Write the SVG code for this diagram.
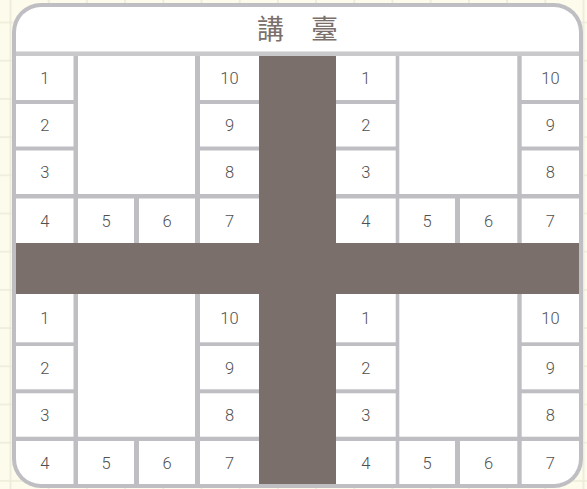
<svg xmlns="http://www.w3.org/2000/svg" width="587" height="489" viewBox="0 0 587 489">
<defs>
<pattern id="bg" x="9.5" y="21.5" width="38.2" height="38.2" patternUnits="userSpaceOnUse">
<rect width="38.2" height="38.2" fill="#fdfbec"/>
<path d="M1 0V38.2M0 1H38.2" stroke="#ecebd9" stroke-width="1.6" fill="none"/>
</pattern>
<clipPath id="inner"><rect x="16" y="7" width="563" height="477" rx="25"/></clipPath>
<style>
.cell{fill:#ffffff}
.big{fill:#ffffff}
.aisle{fill:#7b6f6b}
.num{font-family:Roboto,"Liberation Sans",sans-serif;font-weight:300;font-size:16.5px;fill:#505050;text-anchor:middle}
.title{font-family:"Noto Sans CJK TC","Noto Sans CJK SC",sans-serif;font-size:27px;fill:#7b6f6b;text-anchor:middle}
</style>
</defs>
<rect width="587" height="489" fill="url(#bg)"/>
<rect id="frame" x="12" y="3" width="571" height="485" rx="29" fill="#bfbfc3"/>
<g clip-path="url(#inner)">
<g id="title-bar"><rect class="cell" x="16" y="7" width="563" height="44.7"/><text class="title" x="297.5" y="39">講　臺</text></g>
<rect x="16" y="51.7" width="563" height="4.3" fill="#c9c9cc"/>

<g id="lt-1"><rect class="cell" x="16" y="56" width="57.5" height="44"/><text class="num" x="44.75" y="84">1</text></g>
<g id="lt-2"><rect class="cell" x="16" y="104" width="57.5" height="42.5"/><text class="num" x="44.75" y="131.3">2</text></g>
<g id="lt-3"><rect class="cell" x="16" y="150.5" width="57.5" height="43.5"/><text class="num" x="44.75" y="178.3">3</text></g>
<g id="lt-4"><rect class="cell" x="16" y="198.5" width="57.5" height="44.5"/><text class="num" x="44.75" y="226.8">4</text></g>
<g id="lt-5"><rect class="cell" x="78" y="198.5" width="56" height="44.5"/><text class="num" x="106" y="226.8">5</text></g>
<g id="lt-6"><rect class="cell" x="139" y="198.5" width="56" height="44.5"/><text class="num" x="167" y="226.8">6</text></g>
<g id="lt-7"><rect class="cell" x="200" y="198.5" width="59" height="44.5"/><text class="num" x="229.5" y="226.8">7</text></g>
<g id="lt-8"><rect class="cell" x="200" y="150.5" width="59" height="43.5"/><text class="num" x="229.5" y="178.3">8</text></g>
<g id="lt-9"><rect class="cell" x="200" y="104" width="59" height="42.5"/><text class="num" x="229.5" y="131.3">9</text></g>
<g id="lt-10"><rect class="cell" x="200" y="56" width="59" height="44"/><text class="num" x="229.5" y="84">10</text></g>
<g id="lt-table"><rect class="big" x="78" y="56" width="117" height="138"/></g>

<g id="rt-1"><rect class="cell" x="336" y="56" width="59.7" height="44"/><text class="num" x="365.9" y="84">1</text></g>
<g id="rt-2"><rect class="cell" x="336" y="104" width="59.7" height="42.5"/><text class="num" x="365.9" y="131.3">2</text></g>
<g id="rt-3"><rect class="cell" x="336" y="150.5" width="59.7" height="43.5"/><text class="num" x="365.9" y="178.3">3</text></g>
<g id="rt-4"><rect class="cell" x="336" y="198.5" width="59.7" height="44.5"/><text class="num" x="365.9" y="226.8">4</text></g>
<g id="rt-5"><rect class="cell" x="399.3" y="198.5" width="55.7" height="44.5"/><text class="num" x="427.2" y="226.8">5</text></g>
<g id="rt-6"><rect class="cell" x="460" y="198.5" width="57.3" height="44.5"/><text class="num" x="488.7" y="226.8">6</text></g>
<g id="rt-7"><rect class="cell" x="521.7" y="198.5" width="57.3" height="44.5"/><text class="num" x="550.4" y="226.8">7</text></g>
<g id="rt-8"><rect class="cell" x="521.7" y="150.5" width="57.3" height="43.5"/><text class="num" x="550.4" y="178.3">8</text></g>
<g id="rt-9"><rect class="cell" x="521.7" y="104" width="57.3" height="42.5"/><text class="num" x="550.4" y="131.3">9</text></g>
<g id="rt-10"><rect class="cell" x="521.7" y="56" width="57.3" height="44"/><text class="num" x="550.4" y="84">10</text></g>
<g id="rt-table"><rect class="big" x="399.3" y="56" width="118" height="138"/></g>

<g id="lb-1"><rect class="cell" x="16" y="294" width="57.5" height="48.3"/><text class="num" x="44.75" y="324">1</text></g>
<g id="lb-2"><rect class="cell" x="16" y="346" width="57.5" height="43.3"/><text class="num" x="44.75" y="373.7">2</text></g>
<g id="lb-3"><rect class="cell" x="16" y="393.3" width="57.5" height="43.4"/><text class="num" x="44.75" y="421">3</text></g>
<g id="lb-4"><rect class="cell" x="16" y="441" width="57.5" height="43"/><text class="num" x="44.75" y="468.5">4</text></g>
<g id="lb-5"><rect class="cell" x="78" y="441" width="56" height="43"/><text class="num" x="106" y="468.5">5</text></g>
<g id="lb-6"><rect class="cell" x="139" y="441" width="56" height="43"/><text class="num" x="167" y="468.5">6</text></g>
<g id="lb-7"><rect class="cell" x="200" y="441" width="59" height="43"/><text class="num" x="229.5" y="468.5">7</text></g>
<g id="lb-8"><rect class="cell" x="200" y="393.3" width="59" height="43.4"/><text class="num" x="229.5" y="421">8</text></g>
<g id="lb-9"><rect class="cell" x="200" y="346" width="59" height="43.3"/><text class="num" x="229.5" y="373.7">9</text></g>
<g id="lb-10"><rect class="cell" x="200" y="294" width="59" height="48.3"/><text class="num" x="229.5" y="324">10</text></g>
<g id="lb-table"><rect class="big" x="78" y="294" width="117" height="142.7"/></g>

<g id="rb-1"><rect class="cell" x="336" y="294" width="59.7" height="48.3"/><text class="num" x="365.9" y="324">1</text></g>
<g id="rb-2"><rect class="cell" x="336" y="346" width="59.7" height="43.3"/><text class="num" x="365.9" y="373.7">2</text></g>
<g id="rb-3"><rect class="cell" x="336" y="393.3" width="59.7" height="43.4"/><text class="num" x="365.9" y="421">3</text></g>
<g id="rb-4"><rect class="cell" x="336" y="441" width="59.7" height="43"/><text class="num" x="365.9" y="468.5">4</text></g>
<g id="rb-5"><rect class="cell" x="399.3" y="441" width="55.7" height="43"/><text class="num" x="427.2" y="468.5">5</text></g>
<g id="rb-6"><rect class="cell" x="460" y="441" width="57.3" height="43"/><text class="num" x="488.7" y="468.5">6</text></g>
<g id="rb-7"><rect class="cell" x="521.7" y="441" width="57.3" height="43"/><text class="num" x="550.4" y="468.5">7</text></g>
<g id="rb-8"><rect class="cell" x="521.7" y="393.3" width="57.3" height="43.4"/><text class="num" x="550.4" y="421">8</text></g>
<g id="rb-9"><rect class="cell" x="521.7" y="346" width="57.3" height="43.3"/><text class="num" x="550.4" y="373.7">9</text></g>
<g id="rb-10"><rect class="cell" x="521.7" y="294" width="57.3" height="48.3"/><text class="num" x="550.4" y="324">10</text></g>
<g id="rb-table"><rect class="big" x="399.3" y="294" width="118" height="142.7"/></g>

<g id="aisles">
<rect class="aisle" x="259" y="56" width="77" height="428"/>
<rect class="aisle" x="16" y="243" width="563" height="51"/>
</g>
</g>
</svg>
